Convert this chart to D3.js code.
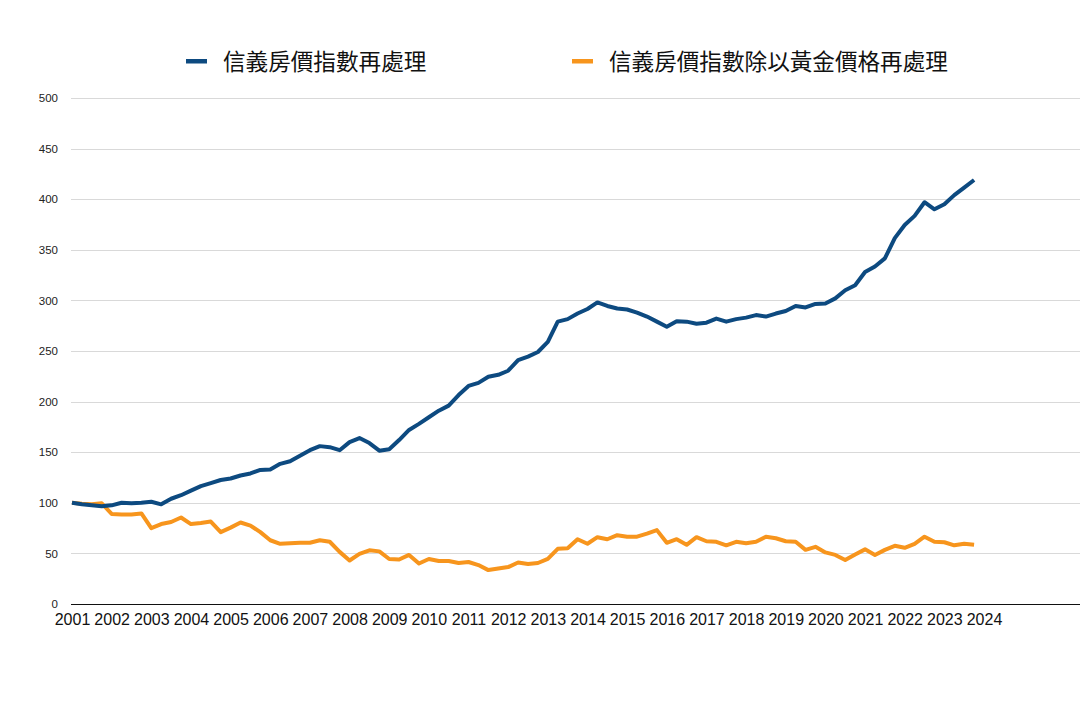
<!DOCTYPE html>
<html>
<head>
<meta charset="utf-8">
<script src="https://cdn.jsdelivr.net/npm/d3@7"></script>
<style>
  html, body { margin: 0; padding: 0; background: #fff; }
  svg { display: block; }
</style>
</head>
<body>
<svg id="chart" width="1080" height="705"></svg>
<script>
// ---- data (quarterly, 2001Q1 .. 2023Q4) ----
const startYear = 2001;
const seriesNames = ["信義房價指數再處理", "信義房價指數除以黃金價格再處理"];
const yearLabels = ["2001","2002","2003","2004","2005","2006","2007","2008","2009","2010","2011","2012",
                    "2013","2014","2015","2016","2017","2018","2019","2020","2021","2022","2023","2024"];
const yTicks = [0, 50, 100, 150, 200, 250, 300, 350, 400, 450, 500];

const housePrice = [
  100, 98.6, 97.5, 96.5, 97.5, 100, 99.5, 100,
  101, 98.5, 104, 107.5, 112, 116.5, 119.5, 122.5,
  124, 127, 129, 132.5, 133, 138.5, 141, 146.5,
  152, 156, 155, 152, 160, 164, 159, 151.5,
  153, 162, 172, 178, 184.5, 191, 196, 206.5,
  215.5, 218.5, 224.5, 226.5, 230.5, 241, 244.5, 249,
  259, 279, 281.5, 287, 291.5, 298, 294.5, 292,
  291, 288, 284, 279, 274, 279.5, 279, 277,
  278, 282, 279, 281.5, 283, 285.5, 284, 287,
  289.5, 294.5, 293, 296.5, 297, 302, 310, 315,
  328, 333.5, 341.5, 361.5, 374.5, 383.5, 397, 390,
  395, 404, 411.5, 419
];
const houseOverGold = [
  100, 99, 98.5, 99.5, 89, 88.5, 88.5, 89.5,
  75, 79, 81, 85.5, 79, 80, 81.5, 71,
  75.5, 80.5, 77.5, 71, 63, 59.5, 60, 60.5,
  60.5, 63, 61.5, 51.5, 43, 49.5, 53, 52,
  44.5, 44, 48.5, 40, 44.5, 42.5, 42.5, 40.5,
  41.5, 38.5, 33.5, 35, 36.5, 41, 39.5, 40.5,
  44.5, 54.5, 55, 64, 59.5, 66, 64, 68,
  66.5, 66.5, 69.5, 73, 60.5, 64, 58.5, 66,
  62, 61.5, 58, 61.5, 60, 61.5, 66.5, 65,
  62, 61.5, 53.5, 56.5, 51, 48.5, 43.5, 49,
  54, 48.5, 53.5, 57.5, 55.5, 59.5, 66.5, 61.5,
  61, 58, 59.5, 58.5
];
const colors = ["#0d4a80", "#f7951d"];

// ---- layout ----
const svg = d3.select("#chart");
const plotLeft = 72, plotRight = 1080, plotTop = 98, plotBottom = 604;

const x = d3.scaleLinear().domain([2001, 2024]).range([plotLeft, 984]);
const y = d3.scaleLinear().domain([0, 500]).range([plotBottom, plotTop]);

// gridlines
svg.append("g")
  .selectAll("line")
  .data(yTicks.filter(d => d > 0))
  .join("line")
  .attr("x1", plotLeft - 1).attr("x2", plotRight)
  .attr("y1", d => Math.round(y(d)) + 0.5).attr("y2", d => Math.round(y(d)) + 0.5)
  .attr("stroke", "#d9d9d9").attr("stroke-width", 1);

// y labels
const yAxis = d3.axisLeft(y).tickValues(yTicks).tickSize(0).tickPadding(0);
const gy = svg.append("g").attr("transform", `translate(${plotLeft - 14},0)`).call(yAxis);
gy.select(".domain").remove();
gy.selectAll("text")
  .attr("font-family", "Liberation Sans, Arial, sans-serif")
  .attr("font-size", "11.5px")
  .attr("fill", "#222");

// x axis baseline + labels
const xAxis = d3.axisBottom(x)
  .tickValues(yearLabels.map(Number))
  .tickFormat(d => String(d))
  .tickSize(0).tickPadding(10);
const gx = svg.append("g").attr("transform", `translate(0,${plotBottom})`).call(xAxis);
gx.select(".domain").remove();
gx.selectAll("text")
  .attr("font-family", "Liberation Sans, Arial, sans-serif")
  .attr("font-size", "16px")
  .attr("fill", "#111");
svg.append("line")
  .attr("x1", plotLeft - 1).attr("x2", plotRight)
  .attr("y1", plotBottom + 0.5).attr("y2", plotBottom + 0.5)
  .attr("stroke", "#111").attr("stroke-width", 1);

// lines
const line = d3.line()
  .x((d, i) => x(startYear + i / 4))
  .y(d => y(d));

[houseOverGold, housePrice].forEach((s, k) => {
  svg.append("path")
    .datum(s)
    .attr("fill", "none")
    .attr("stroke", k === 0 ? colors[1] : colors[0])
    .attr("stroke-width", 4)
    .attr("stroke-linejoin", "round")
    .attr("d", line);
});

// legend
const legend = [
  { name: seriesNames[0], color: colors[0], x: 186 },
  { name: seriesNames[1], color: colors[1], x: 572 }
];
const lg = svg.append("g");
legend.forEach(l => {
  lg.append("rect")
    .attr("x", l.x).attr("y", 59)
    .attr("width", 21).attr("height", 4.5)
    .attr("fill", l.color);
  lg.append("text")
    .attr("x", l.x + 37).attr("y", 69.5)
    .attr("font-family", "Noto Sans CJK TC, Noto Sans CJK SC, sans-serif")
    .attr("font-size", "22.6px")
    .attr("fill", "#111")
    .text(l.name);
});
</script>
</body>
</html>
